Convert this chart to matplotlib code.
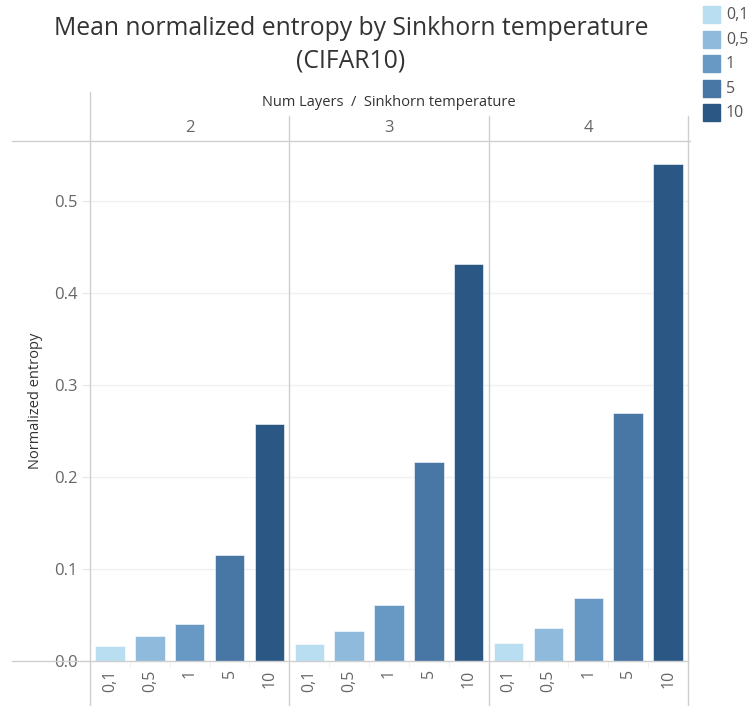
import matplotlib
matplotlib.use("Agg")
import matplotlib.pyplot as plt
from matplotlib.lines import Line2D
from matplotlib.patches import Rectangle

plt.rcParams['font.family'] = ['Open Sans', 'DejaVu Sans']

layers = ["2", "3", "4"]
temps = ["0,1", "0,5", "1", "5", "10"]
entropy = {
    "2": [0.016, 0.027, 0.040, 0.115, 0.258],
    "3": [0.019, 0.033, 0.061, 0.216, 0.431],
    "4": [0.020, 0.036, 0.068, 0.270, 0.540],
}
colors = ["#b9ddf1", "#8fbadc", "#6899c4", "#4876a5", "#2a5783"]
yticks = [0.0, 0.1, 0.2, 0.3, 0.4, 0.5]

W, H = 748, 706
fig = plt.figure(figsize=(W / 100, H / 100), dpi=100)


def fx(px):
    return px / W


def fy(py):
    return 1 - py / H


def hline(y, x0, x1, c="#cfcfcf", lw=1.0):
    fig.add_artist(Line2D([fx(x0), fx(x1)], [fy(y), fy(y)], color=c, lw=lw,
                          transform=fig.transFigure))


def vline(x, y0, y1, c="#cfcfcf", lw=1.0):
    fig.add_artist(Line2D([fx(x), fx(x)], [fy(y0), fy(y1)], color=c, lw=lw,
                          transform=fig.transFigure))


left, right, top, bottom = 90, 688, 141, 661
pw = (right - left) / 3
ymax = (bottom - top) / 920

axes = []
for i, lay in enumerate(layers):
    ax = fig.add_axes([fx(left + i * pw), fy(bottom), pw / W, (bottom - top) / H])
    ax.bar(range(len(temps)), entropy[lay], width=0.74, color=colors,
           edgecolor="white", linewidth=0.4, zorder=3)
    ax.set_xlim(-0.5, len(temps) - 0.5)
    ax.set_ylim(0, ymax)
    for t in yticks[1:]:
        ax.axhline(t, color="#f0f0f0", lw=1, zorder=1)
    ax.set_xticks(range(len(temps)))
    ax.set_xticklabels(temps, rotation=90, color="#666666", fontsize=11.5)
    ax.tick_params(axis="x", length=0, pad=6)
    ax.set_xticks([k + 0.5 for k in range(len(temps) - 1)], minor=True)
    ax.tick_params(axis="x", which="minor", length=4, color="#eeeeee")
    ax.set_yticks(yticks)
    if i == 0:
        ax.set_yticklabels([f"{t:.1f}" for t in yticks], color="#666666", fontsize=12)
        ax.tick_params(axis="y", length=6, color="#e6e6e6", pad=3)
        ax.set_ylabel("Normalized entropy", fontsize=10.5, color="#333333", labelpad=8)
    else:
        ax.tick_params(axis="y", length=0, labelleft=False)
    for s in ax.spines.values():
        s.set_visible(False)
    ax.patch.set_alpha(0)
    ax.text(0.5, 1.0 + 13 / (bottom - top), lay, transform=ax.transAxes,
            ha="center", va="center", fontsize=12, color="#666666")
    axes.append(ax)

# header and panel frame lines
hline(top, 12, right + 2)
hline(bottom, 12, right)
vline(left, 92, H)
vline(left + pw, 116, H)
vline(left + 2 * pw, 116, H)
vline(right, 116, H)

fig.text(fx((left + right) / 2), fy(103), "Num Layers  /  Sinkhorn temperature",
         ha="center", va="center", fontsize=10.5, color="#333333", fontweight="medium")

fig.text(fx(351), fy(45), "Mean normalized entropy by Sinkhorn temperature\n(CIFAR10)",
         ha="center", va="center", fontsize=17.8, color="#333333",
         fontweight="normal", linespacing=1.4)

# legend
for k, (t, c) in enumerate(zip(temps, colors)):
    yc = 15 + k * 24.6
    fig.add_artist(Rectangle((fx(703), fy(yc + 8)), 17 / W, 17 / H, color=c,
                             transform=fig.transFigure))
    fig.text(fx(726), fy(yc), t, ha="left", va="center", fontsize=11.5, color="#555555")

fig.savefig("out.png", dpi=100)
